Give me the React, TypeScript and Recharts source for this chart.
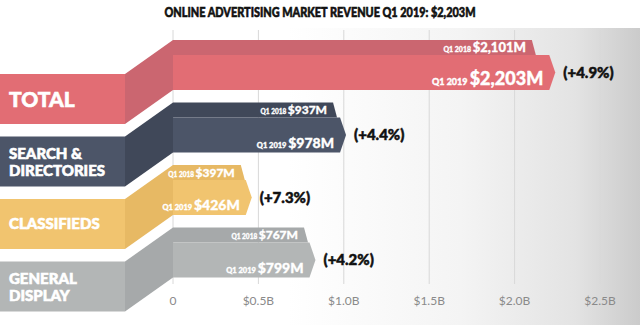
import { BarChart, Bar, XAxis, YAxis, CartesianGrid } from "recharts";

// segments, top to bottom
const categories = ["TOTAL", "SEARCH & DIRECTORIES", "CLASSIFIEDS", "GENERAL DISPLAY"];
const labelLines = [["TOTAL"], ["SEARCH &", "DIRECTORIES"], ["CLASSIFIEDS"], ["GENERAL", "DISPLAY"]];
const q1_2018 = [2101, 937, 397, 767]; // $M
const q1_2019 = [2203, 978, 426, 799]; // $M
const growth = ["(+4.9%)", "(+4.4%)", "(+7.3%)", "(+4.2%)"];

const xTicks = [0, 500, 1000, 1500, 2000, 2500];
const xTickLabels = ["0", "$0.5B", "$1.0B", "$1.5B", "$2.0B", "$2.5B"];

const mainColors = ["#e26d74", "#4c5568", "#f1c46f", "#b3b6b6"];
const darkColors = ["#cb6670", "#404859", "#e7b964", "#a6a9aa"];

const data = categories.map((name, i) => ({
  name,
  idx: i,
  q2018: q1_2018[i],
  q2019: q1_2019[i],
}));

const FONT = "Lato, 'Open Sans', sans-serif";
const fmt = (v: number) => "$" + v.toLocaleString("en-US") + "M";

// left label band + connector + 2018 strip (thin, darker, slanted end)
const Shape2018 = (props: any) => {
  const { x, y, width, height, payload } = props;
  const i = payload.idx;
  const H = height * 2;
  const h = H * 0.3;
  const end = x + width;
  const big = i === 0;
  const shift = 34;
  const bx = x - 48;
  const bandTop = y + shift;
  const bandMid = bandTop + H / 2;
  const lines = labelLines[i];
  return (
    <g>
      <rect x={0} y={bandTop} width={bx} height={H} fill={mainColors[i]} />
      <polygon
        points={`${bx},${bandTop} ${x},${y} ${x},${y + H} ${bx},${bandTop + H}`}
        fill={darkColors[i]}
      />
      {lines.map((t, k) => (
        <text
          key={k}
          x={9}
          y={bandMid + (lines.length === 1 ? 0 : k === 0 ? -8 : 9)}
          dy="0.36em"
          fill="#fff"
          stroke="#fff"
          strokeWidth={0.6}
          fontFamily={FONT}
          fontWeight={900}
          fontSize={big ? 21 : 15}
        >
          {t}
        </text>
      ))}
      <polygon
        points={`${x},${y} ${end},${y} ${end + 4},${y + h} ${x},${y + h}`}
        fill={darkColors[i]}
      />
      <text
        x={end - 6}
        y={y + h - 3.5}
        textAnchor="end"
        fill="#fff"
        stroke="#fff"
        strokeWidth={0.3}
        fontFamily={FONT}
        fontWeight={900}
      >
        <tspan fontSize={big ? 7 : 6.5}>Q1 2018 </tspan>
        <tspan fontSize={big ? 13 : 12}>{fmt(q1_2018[i])}</tspan>
      </text>
    </g>
  );
};

// 2019 strip with arrow tip + growth label
const Shape2019 = (props: any) => {
  const { x, y, width, height, payload } = props;
  const i = payload.idx;
  const H = height * 2;
  const groupTop = y - height;
  const top = groupTop + H * 0.3;
  const bottom = groupTop + H;
  const mid = (top + bottom) / 2;
  const end = x + width;
  const big = i === 0;
  return (
    <g>
      <polygon
        points={`${x},${top} ${end},${top} ${end + 6},${mid} ${end},${bottom} ${x},${bottom}`}
        fill={mainColors[i]}
      />
      <text
        x={end - 6}
        y={bottom - 5}
        textAnchor="end"
        fill="#fff"
        stroke="#fff"
        strokeWidth={0.35}
        fontFamily={FONT}
        fontWeight={900}
      >
        <tspan fontSize={big ? 9 : 7.5}>Q1 2019 </tspan>
        <tspan fontSize={big ? 18 : 14}>{fmt(q1_2019[i])}</tspan>
      </text>
      <text
        x={end + 14}
        y={mid}
        dy="0.36em"
        fill="#111"
        stroke="#111"
        strokeWidth={0.5}
        fontFamily={FONT}
        fontWeight={900}
        fontSize={15}
      >
        {growth[i]}
      </text>
    </g>
  );
};

export default function App() {
  return (
    <div style={{ position: "fixed", left: 0, top: 0, width: 640, height: 325, background: "#fff" }}>
      <div
        style={{
          position: "absolute",
          left: 0,
          top: 28,
          width: 640,
          height: 297,
          background:
            "linear-gradient(to right, #ffffff 45%, #f4f4f4 72%, #e3e3e3 90%, #cbcbcb 100%)",
        }}
      />
      <div style={{ position: "absolute", left: 0, top: 0 }}>
        <BarChart
          width={640}
          height={325}
          data={data}
          layout="vertical"
          margin={{ top: 30, right: 40, left: 173, bottom: 11 }}
          barGap={0}
          barCategoryGap={6}
        >
          <text
            x={320}
            y={17}
            textAnchor="middle"
            fill="#111"
            stroke="#111"
            strokeWidth={0.6}
            fontFamily={FONT}
            fontWeight={900}
            fontSize={14}
            textLength={311}
            lengthAdjust="spacingAndGlyphs"
          >
            ONLINE ADVERTISING MARKET REVENUE Q1 2019: $2,203M
          </text>
          <CartesianGrid horizontal={false} stroke="#d8d8d8" />
          <XAxis
            type="number"
            domain={[0, 2500]}
            ticks={xTicks}
            tickFormatter={(v: number) => xTickLabels[xTicks.indexOf(v)]}
            axisLine={false}
            tickLine={false}
            tickMargin={6}
            height={30}
            tick={{ fill: "#8a8a8a", fontSize: 12, fontFamily: FONT }}
          />
          <YAxis type="category" dataKey="name" hide padding={{ top: 4, bottom: 0 }} />
          <Bar dataKey="q2018" shape={Shape2018} isAnimationActive={false} />
          <Bar dataKey="q2019" shape={Shape2019} isAnimationActive={false} />
        </BarChart>
      </div>
    </div>
  );
}
